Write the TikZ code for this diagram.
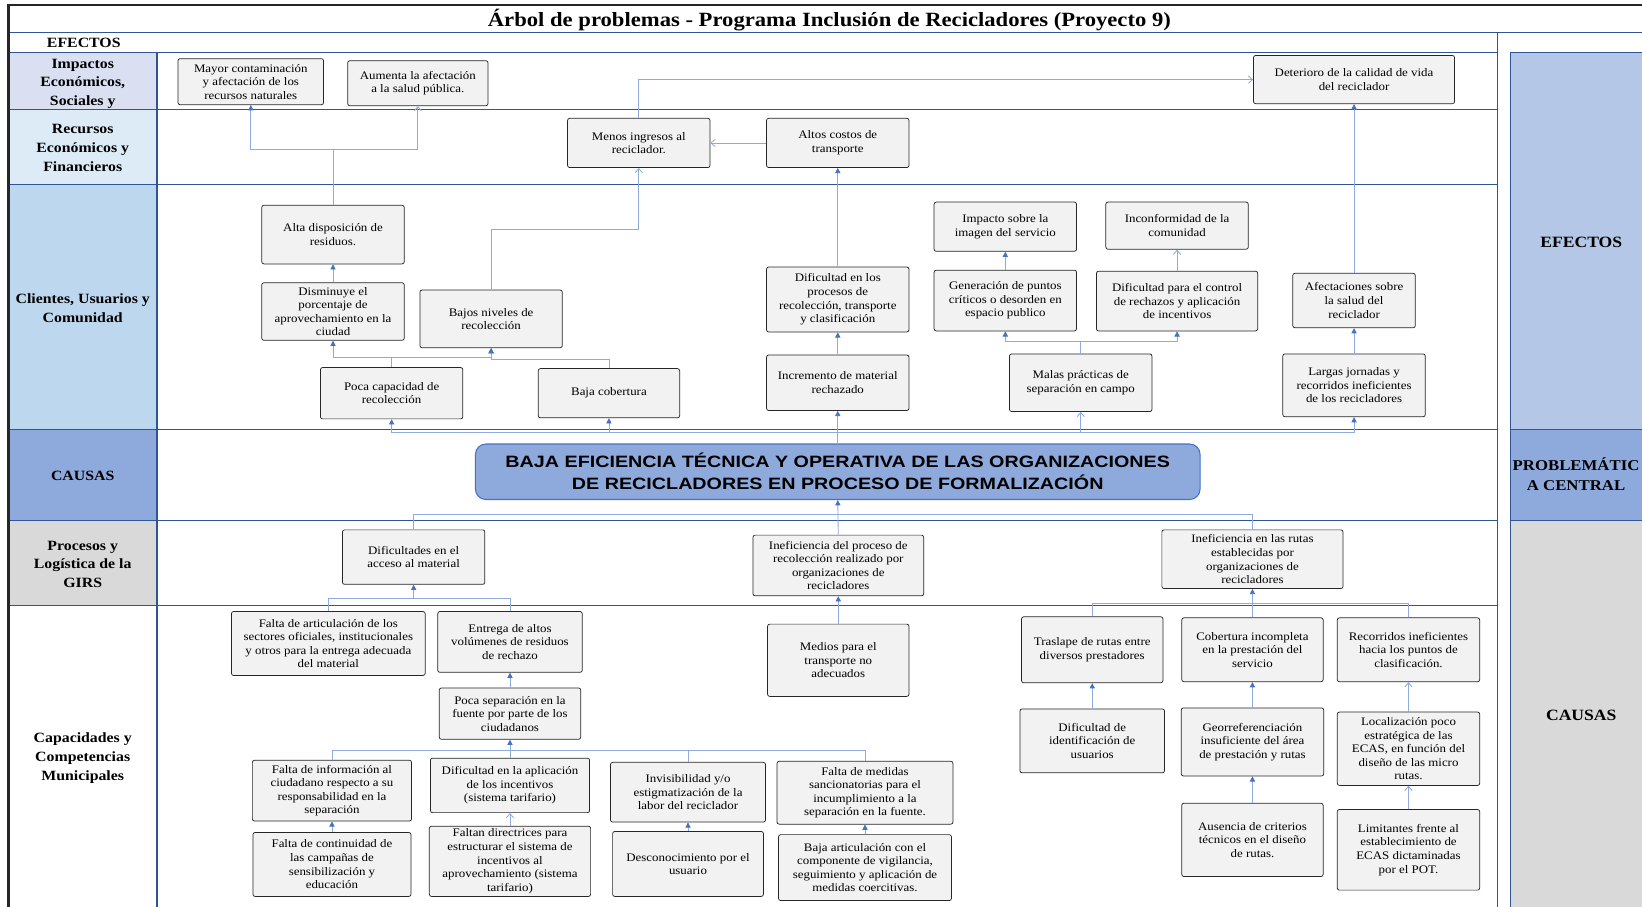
\documentclass[tikz,border=0pt]{standalone}
\usepackage{fontspec}
\setmainfont{Liberation Serif}[FakeStretch=1.12]
\newfontfamily\headfont{Liberation Sans}[FakeStretch=1.2]
\usetikzlibrary{arrows.meta}
\definecolor{treeBlue}{RGB}{47,85,151}
\definecolor{linkBlue}{RGB}{143,170,220}
\definecolor{tipBlue}{RGB}{68,114,196}
\definecolor{boxGray}{RGB}{242,242,242}
\definecolor{cellLav}{RGB}{218,224,242}
\definecolor{cellPale}{RGB}{221,235,247}
\definecolor{cellSky}{RGB}{189,215,238}
\definecolor{cellMid}{RGB}{142,169,219}
\definecolor{cellGray}{RGB}{217,217,217}
\definecolor{panelBlue}{RGB}{180,199,231}

\tikzset{
  prob/.style={draw=black!85, fill=boxGray, rounded corners=2pt, line width=0.7pt,
    align=center, inner sep=0pt, font=\fontsize{11}{13}\selectfont},
  link/.style={linkBlue, line width=0.8pt},
  fillarrow/.style={link, -{Triangle[width=5pt,length=5pt,color=tipBlue]}},
  openarrow/.style={link, -{Straight Barb[width=7pt,length=4pt]}},
  rowlabel/.style={font=\fontsize{13.5}{18}\selectfont\bfseries, align=center},
  panellabel/.style={font=\fontsize{15}{19}\selectfont\bfseries, align=center},
  rowline/.style={treeBlue, line width=0.9pt}
}

\begin{document}
\begin{tikzpicture}[x=1pt,y=-1pt]
  \useasboundingbox (0,0) rectangle (1568,866);
  \clip (0,0) rectangle (1568,866);
  \fill[white] (0,0) rectangle (1568,866);

  % row cells
  \foreach \top/\bot/\col in {50/105/cellLav, 105/176/cellPale, 176/410/cellSky,
      410/497/cellMid, 497/578/cellGray}
    \fill[\col] (8,\top) rectangle (150,\bot);
  \fill[panelBlue] (1442,50) rectangle (1600,410);
  \fill[cellMid] (1442,410) rectangle (1600,497);
  \fill[cellGray] (1442,497) rectangle (1600,866);

  % grid
  \foreach \y in {50,105,176,410,497,578}
    \draw[rowline] (8,\y) -- (1430,\y);
  \draw[rowline] (8,31) -- (1568,31);
  \draw[rowline] (1430,31) -- (1430,866);
  \draw[treeBlue,line width=1.6pt] (150,50) -- (150,866);
  \draw[rowline] (1442,866) -- (1442,50) -- (1600,50);
  \draw[rowline] (1442,410) -- (1600,410);
  \draw[rowline] (1442,497) -- (1600,497);
  \draw[black!85,line width=2.4pt] (8,866) -- (8,5) -- (1568,5);

  % labels
  \node[font=\fontsize{19.3}{22}\selectfont\bfseries] (titulo) at (792,19)
    {Árbol de problemas - Programa Inclusión de Recicladores (Proyecto 9)};
  \node[rowlabel] (efectosL) at (80,41) {EFECTOS};
  \node[rowlabel] (impactosL) at (79,80) {Impactos\\Económicos,\\Sociales y};
  \node[rowlabel] (recursosL) at (79,141) {Recursos\\Económicos y\\Financieros};
  \node[rowlabel] (clientesL) at (79,294) {Clientes, Usuarios y\\Comunidad};
  \node[rowlabel] (causasL) at (79,454) {CAUSAS};
  \node[rowlabel] (procesosL) at (79,539) {Procesos y\\Logística de la\\GIRS};
  \node[rowlabel] (capacidadesL) at (79,724) {Capacidades y\\Competencias\\Municipales};
  \node[panellabel] (efectosR) at (1510,231) {EFECTOS};
  \node[panellabel, font=\fontsize{14.3}{19}\selectfont\bfseries] (centralR) at (1505,453)
    {PROBLEMÁTIC\\A CENTRAL};
  \node[panellabel] (causasR) at (1510,683) {CAUSAS};

  % effects
  \foreach \nm/\cx/\cy/\w/\h/\txt in {
      mayor/239.5/78/139/44/{Mayor contaminación\\y afectación de los\\recursos naturales},
      aumenta/399/79.5/134/43/{Aumenta la afectación\\a la salud pública.},
      deterioro/1293/76/192/46/{Deterioro de la calidad de vida\\del reciclador},
      menos/610/136.5/136/47/{Menos ingresos al\\reciclador.},
      altos/800/136.5/136/47/{Altos costos de\\transporte},
      alta/318/224/136/56/{Alta disposición de\\residuos.},
      disminuye/318/297.5/136/55/{Disminuye el\\porcentaje de\\aprovechamiento en la\\ciudad},
      bajos/469/304.5/136/55/{Bajos niveles de\\recolección},
      pocacap/374/375.5/136/49/{Poca capacidad de\\recolección},
      bajacob/581.5/375.5/135/47/{Baja cobertura},
      dificproc/800/286/136/62/{Dificultad en los\\procesos de\\recolección, transporte\\y clasificación},
      incremento/800/365.5/136/53/{Incremento de material\\rechazado},
      impacto/960/216.5/136/47/{Impacto sobre la\\imagen del servicio},
      inconformidad/1124/215.5/136/45/{Inconformidad de la\\comunidad},
      generacion/960/287/136/58/{Generación de puntos\\críticos o desorden en\\espacio publico},
      dificctrl/1124/287.5/154/57/{Dificultad para el control\\de rechazos y aplicación\\de incentivos},
      malas/1032/365.5/136/55/{Malas prácticas de\\separación en campo},
      afectaciones/1293/287/117/52/{Afectaciones sobre\\la salud del\\reciclador},
      largas/1293/368/136/60/{Largas jornadas y\\recorridos ineficientes\\de los recicladores}}
    \node[prob, minimum width=\w pt, minimum height=\h pt] (\nm) at (\cx,\cy) {\txt};

  % central problem
  \node[draw=tipBlue, fill=cellMid, rounded corners=10pt, line width=1pt,
    minimum width=692pt, minimum height=53pt, align=center,
    font=\headfont\bfseries\fontsize{15.7}{21}\selectfont] (problema) at (800,450.5)
    {BAJA EFICIENCIA TÉCNICA Y OPERATIVA DE LAS ORGANIZACIONES\\DE RECICLADORES EN PROCESO DE FORMALIZACIÓN};

  % causes
  \foreach \nm/\cx/\cy/\w/\h/\txt in {
      dificacceso/395/532/136/52/{Dificultades en el\\acceso al material},
      inefproc/800.5/540/163/58/{Ineficiencia del proceso de\\recolección realizado por\\organizaciones de\\recicladores},
      inefrutas/1196/534/173/56/{Ineficiencia en las rutas\\establecidas por\\organizaciones de\\recicladores},
      faltaartic/313.5/614.5/185/61/{Falta de articulación de los\\sectores oficiales, institucionales\\y otros para la entrega adecuada\\del material},
      entrega/487/613/138/58/{Entrega de altos\\volúmenes de residuos\\de rechazo},
      pocasep/487/681.5/135/49/{Poca separación en la\\fuente por parte de los\\ciudadanos},
      faltainfo/317/755/152/58/{Falta de información al\\ciudadano respecto a su\\responsabilidad en la\\separación},
      difaplic/487/750/152/52/{Dificultad en la aplicación\\de los incentivos\\(sistema tarifario)},
      invisib/657/756.5/148/57/{Invisibilidad y/o\\estigmatización de la\\labor del reciclador},
      faltamed/826/757/168/60/{Falta de medidas\\sancionatorias para el\\incumplimiento a la\\separación en la fuente.},
      faltacont/317/825.5/151/61/{Falta de continuidad de\\las campañas de\\sensibilización y\\educación},
      faltandir/487/822.5/154/67/{Faltan directrices para\\estructurar el sistema de\\incentivos al\\aprovechamiento (sistema\\tarifario)},
      desconoc/657/825/144/62/{Desconocimiento por el\\usuario},
      bajaartic/826/828.5/165/63/{Baja articulación con el\\componente de vigilancia,\\seguimiento y aplicación de\\medidas coercitivas.},
      medios/800.5/630.5/135/69/{Medios para el\\transporte no\\adecuados},
      traslape/1043/620.5/135/63/{Traslape de rutas entre\\diversos prestadores},
      cobertura/1196/620.5/135/61/{Cobertura incompleta\\en la prestación del\\servicio},
      recorridos/1345/620.5/136/61/{Recorridos ineficientes\\hacia los puntos de\\clasificación.},
      dificident/1043/707.5/138/61/{Dificultad de\\identificación de\\usuarios},
      georref/1196/708.5/136/65/{Georreferenciación\\insuficiente del área\\de prestación y rutas},
      localiz/1345/715/136/70/{Localización poco\\estratégica de las\\ECAS, en función del\\diseño de las micro\\rutas.},
      ausencia/1196/802/135/70/{Ausencia de criterios\\técnicos en el diseño\\de rutas.},
      limitantes/1345/811.5/136/77/{Limitantes frente al\\establecimiento de\\ECAS dictaminadas\\por el POT.}}
    \node[prob, minimum width=\w pt, minimum height=\h pt] (\nm) at (\cx,\cy) {\txt};

  % junctions
  \coordinate (jAlta) at (318,143);
  \coordinate (jBajos) at (469,219);
  \coordinate (jPoca) at (374,341);
  \coordinate (jCob) at (581.5,343);
  \coordinate (jMalas) at (1032,326);
  \coordinate (jArriba) at (800,413);
  \coordinate (jAbajo) at (800,491);
  \coordinate (jAcceso) at (395,571);
  \coordinate (jRutas) at (1196,576);
  \coordinate (jSep) at (487,717);

  % effect links
  \draw[fillarrow] (alta.north) -- (jAlta) -| (mayor.south);
  \draw[openarrow] (jAlta) -| (aumenta.south);
  \draw[openarrow] (bajos.north) -- (jBajos) -| (menos.south);
  \draw[openarrow] (menos.north) |- (deterioro.west);
  \draw[openarrow] (altos.west) -- (menos.east);
  \draw[fillarrow] (dificproc.north) -- (altos.south);
  \draw[fillarrow] (afectaciones.north) -- (deterioro.south);
  \draw[fillarrow] (disminuye.north) -- (alta.south);
  \draw[fillarrow] (pocacap.north) -- (jPoca) -| (disminuye.south);
  \draw[fillarrow] (jPoca) -| (bajos.south);
  \draw[fillarrow] (bajacob.north) -- (jCob) -| (bajos.south);
  \draw[fillarrow] (incremento.north) -- (dificproc.south);
  \draw[fillarrow] (malas.north) -- (jMalas) -| (generacion.south);
  \draw[fillarrow] (jMalas) -| (dificctrl.south);
  \draw[fillarrow] (generacion.north) -- (impacto.south);
  \draw[openarrow] (dificctrl.north) -- (inconformidad.south);
  \draw[fillarrow] (largas.north) -- (afectaciones.south);

  % central links
  \draw[link] (problema.north) -- (jArriba);
  \draw[fillarrow] (jArriba) -- (incremento.south);
  \draw[fillarrow] (jArriba) -| (pocacap.south);
  \draw[fillarrow] (jArriba) -| (bajacob.south);
  \draw[openarrow] (jArriba) -| (malas.south);
  \draw[fillarrow] (jArriba) -| (largas.south);
  \draw[fillarrow] (inefproc.north) -- (problema.south);
  \draw[link] (dificacceso.north) |- (jAbajo);
  \draw[link] (inefrutas.north) |- (jAbajo);

  % cause links
  \draw[link] (faltaartic.north) |- (jAcceso);
  \draw[link] (entrega.north) |- (jAcceso);
  \draw[fillarrow] (jAcceso) -- (dificacceso.south);
  \draw[fillarrow] (medios.north) -- (inefproc.south);
  \draw[link] (traslape.north) |- (jRutas);
  \draw[link] (recorridos.north) |- (jRutas);
  \draw[fillarrow] (cobertura.north) -- (inefrutas.south);
  \draw[fillarrow] (pocasep.north) -- (entrega.south);
  \draw[link] (faltainfo.north) |- (jSep);
  \draw[link] (invisib.north) |- (jSep);
  \draw[link] (faltamed.north) |- (jSep);
  \draw[link] (difaplic.north) -- (jSep);
  \draw[fillarrow] (jSep) -- (pocasep.south);
  \draw[fillarrow] (faltacont.north) -- (faltainfo.south);
  \draw[openarrow] (faltandir.north) -- (difaplic.south);
  \draw[fillarrow] (desconoc.north) -- (invisib.south);
  \draw[fillarrow] (bajaartic.north) -- (faltamed.south);
  \draw[fillarrow] (dificident.north) -- (traslape.south);
  \draw[fillarrow] (georref.north) -- (cobertura.south);
  \draw[openarrow] (localiz.north) -- (recorridos.south);
  \draw[fillarrow] (ausencia.north) -- (georref.south);
  \draw[openarrow] (limitantes.north) -- (localiz.south);
\end{tikzpicture}
\end{document}
